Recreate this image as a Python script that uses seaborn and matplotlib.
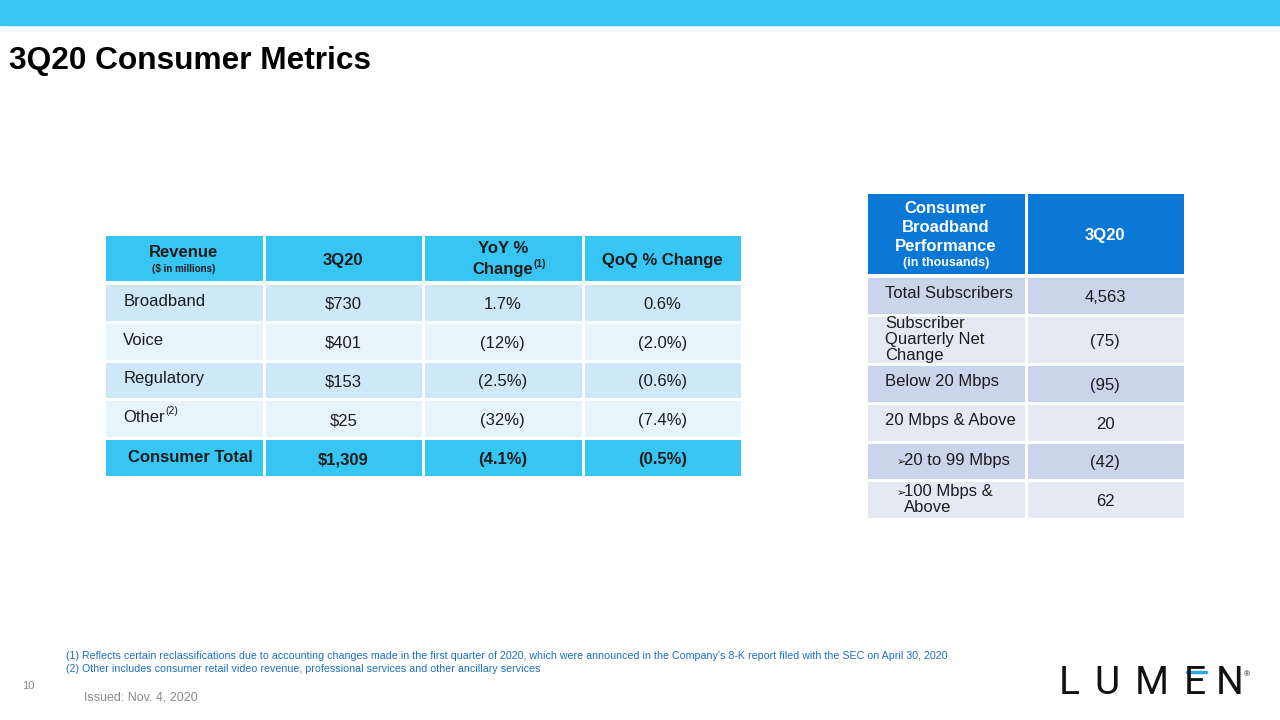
import numpy as np
import seaborn as sns
import matplotlib.pyplot as plt
from matplotlib.colors import ListedColormap
from matplotlib.patches import Rectangle
from matplotlib.lines import Line2D

# --- datos ---
rev_header = ["Revenue", "3Q20", "YoY %", "Change", "QoQ % Change"]
rev_rows = ["Broadband", "Voice", "Regulatory", "Other"]
rev_3q20 = ["$730", "$401", "$153", "$25"]
rev_yoy = ["1.7%", "(12%)", "(2.5%)", "(32%)"]
rev_qoq = ["0.6%", "(2.0%)", "(0.6%)", "(7.4%)"]
rev_total = ["Consumer Total", "$1,309", "(4.1%)", "(0.5%)"]

bb_header = ["Consumer\nBroadband\nPerformance", "3Q20"]
bb_rows = ["Total Subscribers", "Subscriber\nQuarterly Net\nChange", "Below 20 Mbps",
           "20 Mbps & Above", "20 to 99 Mbps", "100 Mbps &\nAbove"]
bb_bullet = [False, False, False, False, True, True]
bb_3q20 = ["4,563", "(75)", "(95)", "20", "(42)", "62"]

footnotes = [
    "(1) Reflects certain reclassifications due to accounting changes made in the first quarter of 2020, "
    "which were announced in the Company's 8-K report filed with the SEC on April 30, 2020",
    "(2) Other includes consumer retail video revenue, professional services and other ancillary services",
]

# --- estilo ---
sns.set_theme(style="white")
plt.rcParams['font.family'] = ['Liberation Sans', 'DejaVu Sans']

CYAN = "#37C5F3"
colors = [CYAN, "#CDE8F8", "#E7F4FC", "#0B78D5", "#CAD4EA", "#E5E9F3"]
cmap = ListedColormap(colors)
TXT = "#1c1c1c"

W, H = 1280, 720
fig = plt.figure(figsize=(12.8, 7.2), dpi=100)


def px_axes(x0, y0, x1, y1):
    return fig.add_axes([x0 / W, 1 - y1 / H, (x1 - x0) / W, (y1 - y0) / H])


def cells(ax, codes):
    sns.heatmap(np.array(codes), ax=ax, cmap=cmap, vmin=-0.5, vmax=5.5, cbar=False,
                linewidths=1.0, linecolor="white", xticklabels=False, yticklabels=False)


# banda superior y titulo
fig.add_artist(Rectangle((0, 1 - 25 / H), 1, 25 / H, transform=fig.transFigure,
                         color=CYAN, zorder=0))
fig.text(9 / W, 1 - 61 / H, "3Q20 Consumer Metrics", fontsize=22.8, weight="bold",
         color="black", va="center")

# --- tabla de ingresos ---
ax = px_axes(104, 234, 742, 282)
cells(ax, [[0] * 4])
ax.text(0.5, 0.38, rev_header[0], ha="center", va="center", fontsize=12, weight="bold", color=TXT)
ax.text(0.5, 0.72, "($ in millions)", ha="center", va="center", fontsize=7, weight="bold", color=TXT)
ax.text(1.5, 0.55, rev_header[1], ha="center", va="center", fontsize=12, weight="bold", color=TXT)
ax.text(2.5, 0.31, rev_header[2], ha="center", va="center", fontsize=12, weight="bold", color=TXT)
t = ax.text(2.5, 0.74, rev_header[3], ha="center", va="center", fontsize=12, weight="bold", color=TXT)
ax.annotate("(1)", xy=(1.0, 0.55), xycoords=t, xytext=(0.5, 0), textcoords="offset points",
            va="bottom", fontsize=7.5, weight="bold", color=TXT)
ax.text(3.5, 0.55, rev_header[4], ha="center", va="center", fontsize=12, weight="bold", color=TXT)

ax = px_axes(104, 283, 742, 477)
codes = [[1 + (i % 2)] * 4 for i in range(len(rev_rows))] + [[0] * 4]
cells(ax, codes)
for i, name in enumerate(rev_rows):
    t = ax.text(0.12, i + 0.47, name, ha="left", va="center", fontsize=12, color=TXT)
    if name == "Other":
        ax.annotate("(2)", xy=(1.0, 0.62), xycoords=t, xytext=(0.3, 0), textcoords="offset points",
                    va="bottom", fontsize=7.5, color=TXT)
    for j, col in enumerate([rev_3q20, rev_yoy, rev_qoq]):
        ax.text(j + 1.5, i + 0.55, col[i], ha="center", va="center", fontsize=12, color=TXT)
ax.text(0.54, 4.5, rev_total[0], ha="center", va="center", fontsize=12, weight="bold", color=TXT)
for j in range(1, 4):
    ax.text(j + 0.5, 4.55, rev_total[j], ha="center", va="center", fontsize=12,
            weight="bold", color=TXT)

# --- tabla de banda ancha ---
ax = px_axes(866, 192, 1185, 275)
cells(ax, [[3, 3]])
ax.text(0.5, 0.43, bb_header[0], ha="center", va="center", fontsize=12, weight="bold",
        color="white", linespacing=1.33)
ax.text(0.5, 0.86, "(in thousands)", ha="center", va="center", fontsize=9, weight="bold",
        color="white")
ax.text(1.5, 0.52, bb_header[1], ha="center", va="center", fontsize=12, weight="bold",
        color="white")

blocks = [(276, 315, [0]), (315, 364, [1]), (364, 519, [2, 3, 4, 5])]
for y0, y1, idx in blocks:
    ax = px_axes(866, y0, 1185, y1)
    cells(ax, [[4 if i % 2 == 0 else 5] * 2 for i in idx])
    for k, i in enumerate(idx):
        if bb_bullet[i]:
            ax.text(0.24, k + 0.5, bb_rows[i], ha="left", va="center", fontsize=12,
                    color=TXT, linespacing=1.1)
            first_line = 0.5 if "\n" not in bb_rows[i] else 0.28
            ax.text(0.19, k + first_line + 0.04, "\u27a2", ha="left", va="center",
                    fontsize=8, color=TXT, family="DejaVu Sans")
        else:
            ax.text(0.12, k + (0.5 if "\n" in bb_rows[i] else 0.45), bb_rows[i], ha="left",
                    va="center", fontsize=12, color=TXT, linespacing=1.1)
        ax.text(1.5, k + 0.55, bb_3q20[i], ha="center", va="center", fontsize=12, color=TXT)

# --- notas al pie ---
for k, note in enumerate(footnotes):
    fig.text(66 / W, 1 - (656 + 13 * k) / H, note, fontsize=7.7, color="#1F6FC2", va="center")
fig.text(22 / W, 1 - 686 / H, "10", fontsize=8, color="#8a8a8a", va="center")
fig.text(84 / W, 1 - 698 / H, "Issued: Nov. 4, 2020", fontsize=9, color="#8a8a8a", va="center")

# logotipo
for ch, xc in zip("LUMEN", [1069, 1107, 1152, 1195, 1230]):
    fig.text(xc / W, 1 - 684 / H, ch, fontsize=28, color="#111111", ha="center", va="center",
             family="Roboto")
fig.add_artist(Line2D([1187 / W, 1206 / W], [1 - 672 / H, 1 - 672 / H], transform=fig.transFigure,
                      color="#2FA8E8", lw=2.5))
fig.text(1247 / W, 1 - 675 / H, "\u00ae", fontsize=6, color="#111111", ha="center", va="center")

fig.savefig("out.png", dpi=100)
